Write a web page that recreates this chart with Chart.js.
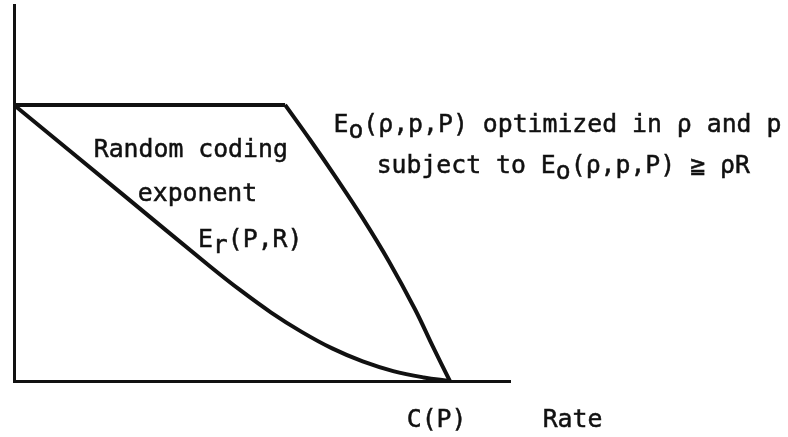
<!DOCTYPE html>
<html>
<head>
<meta charset="utf-8">
<title>Random coding exponent</title>
<script src="https://cdn.jsdelivr.net/npm/chart.js@4"></script>
<style>
  html, body { margin: 0; padding: 0; background: #fff; }
  canvas { display: block; }
</style>
</head>
<body>
<canvas id="chart1" width="788" height="437"></canvas>
<script>
// exponent curves vs. rate (rate normalised so C(P) = 1, exponent so E0 max = 1)

// flat part of the E0 bound
var rateFlat = [0, 0.622];
var expFlat = [1, 1];

// E0(rho,p,P) optimized, falling to C(P)
var rateE0 = [0.622, 0.68, 0.74, 0.80, 0.86, 0.92, 0.96, 1];
var expE0 = [1, 0.872, 0.734, 0.59, 0.434, 0.26, 0.128, 0];

// random coding exponent Er(P,R)
var rateEr = [0, 0.25, 0.45, 0.52, 0.59, 0.66, 0.73, 0.80, 0.87, 0.94, 1];
var expEr = [1, 0.675, 0.415, 0.328, 0.248, 0.178, 0.118, 0.071, 0.036, 0.013, 0];

function toPoints(xs, ys) {
  return xs.map(function (x, i) { return { x: x, y: ys[i] }; });
}

// text labels: parts with sub = true are dropped as subscripts
var notes = [
  { r: 0.183, e: 0.812, parts: [{ t: 'Random coding' }] },
  { r: 0.284, e: 0.652, parts: [{ t: 'exponent' }] },
  { r: 0.422, e: 0.486, parts: [{ t: 'E' }, { t: 'r', sub: true }, { t: '(P,R)' }] },
  { r: 0.733, e: 0.902, parts: [{ t: 'E' }, { t: 'o', sub: true }, { t: '(\u03c1,p,P) optimized in \u03c1 and p' }] },
  { r: 0.832, e: 0.754, parts: [{ t: 'subject to E' }, { t: 'o', sub: true }, { t: '(\u03c1,p,P) \u2267 \u03c1R' }] },
  { r: 0.901, e: -0.167, parts: [{ t: 'C(P)' }] },
  { r: 1.213, e: -0.167, parts: [{ t: 'Rate' }] }
];

var notePlugin = {
  id: 'notes',
  afterDraw: function (chart) {
    var ctx = chart.ctx;
    var xs = chart.scales.x, ys = chart.scales.y;
    ctx.save();
    ctx.font = '24.8px "DejaVu Sans Mono", monospace';
    ctx.fillStyle = '#111';
    ctx.strokeStyle = '#111';
    ctx.lineWidth = 0.5;
    ctx.textAlign = 'left';
    ctx.textBaseline = 'alphabetic';
    notes.forEach(function (n) {
      var x = xs.getPixelForValue(n.r);
      var y = ys.getPixelForValue(n.e);
      n.parts.forEach(function (p) {
        var ty = p.sub ? y + 6 : y;
        ctx.fillText(p.t, x, ty);
        ctx.strokeText(p.t, x, ty);
        x += ctx.measureText(p.t).width;
      });
    });
    ctx.restore();
  }
};

var lineStyle = {
  borderColor: '#111',
  borderWidth: 4,
  pointRadius: 0,
  fill: false
};

var graph = document.getElementById('chart1');

var myChart = new Chart(graph, {
  type: 'line',
  data: {
    datasets: [
      Object.assign({ data: toPoints(rateFlat, expFlat), tension: 0 }, lineStyle),
      Object.assign({ data: toPoints(rateE0, expE0), tension: 0.4 }, lineStyle),
      Object.assign({ data: toPoints(rateEr, expEr), tension: 0.4 }, lineStyle)
    ]
  },
  options: {
    responsive: false,
    animation: false,
    layout: { padding: { left: 6, right: 278, top: 5, bottom: 48 } },
    plugins: {
      legend: { display: false },
      tooltip: { enabled: false },
      title: { display: false }
    },
    scales: {
      x: {
        type: 'linear',
        min: 0,
        max: 1.138,
        grid: { display: false },
        ticks: { display: false },
        border: { display: true, color: '#111', width: 3 }
      },
      y: {
        type: 'linear',
        min: 0,
        max: 1.362,
        grid: { display: false },
        ticks: { display: false },
        border: { display: true, color: '#111', width: 3 }
      }
    }
  },
  plugins: [notePlugin]
}); // ends the chart
</script>
</body>
</html>
